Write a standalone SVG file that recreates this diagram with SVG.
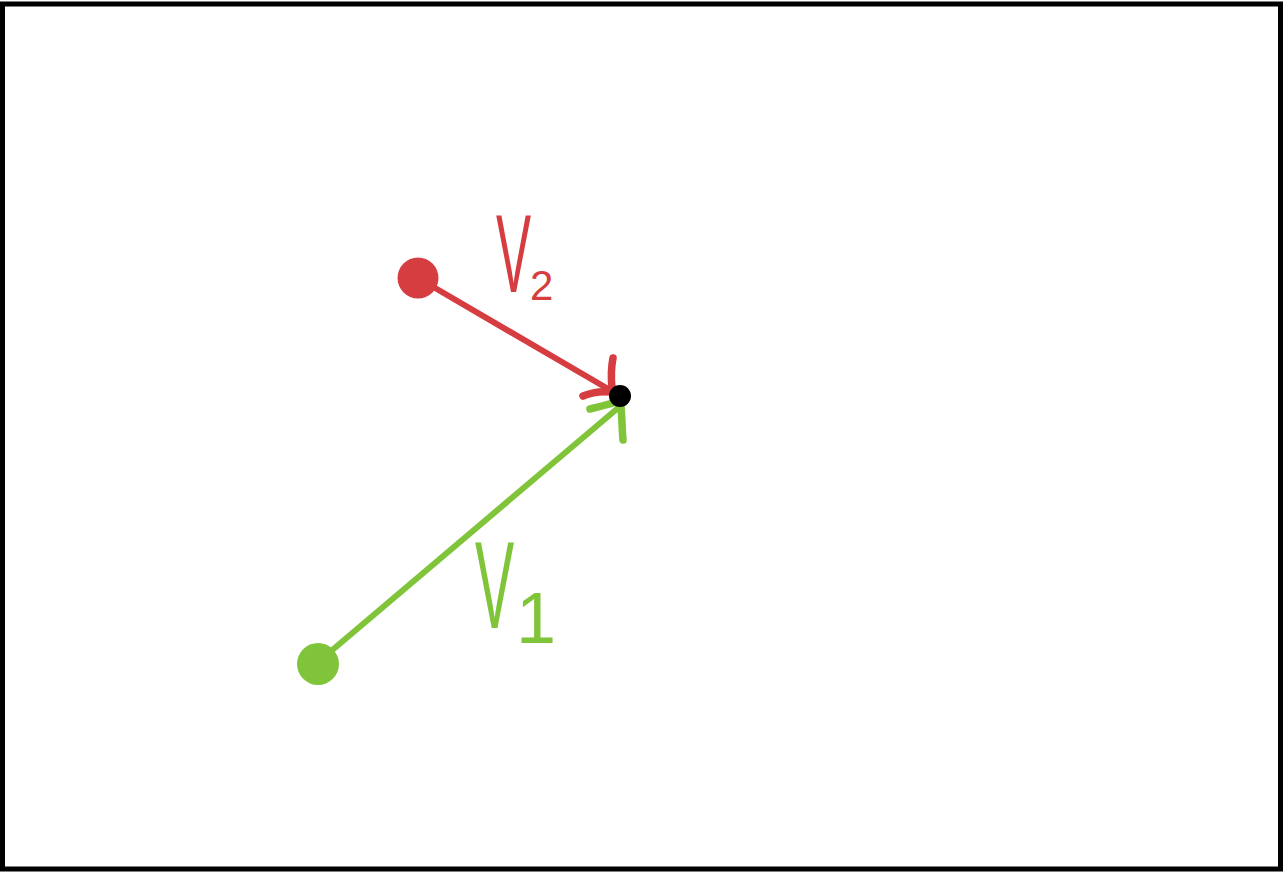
<svg xmlns="http://www.w3.org/2000/svg" width="1285" height="877" viewBox="0 0 1285 877">
<style>
.red{stroke:#d63d40;fill:none;stroke-width:6;stroke-linecap:round;stroke-linejoin:round}
.green{stroke:#80c43a;fill:none;stroke-width:6;stroke-linecap:round;stroke-linejoin:round}
.head{stroke-width:7.5}
.redf{fill:#d63d40}
.greenf{fill:#80c43a}
.lbl{font-family:"Liberation Sans",Arial,sans-serif}
</style>
<rect x="0" y="0" width="1285" height="877" fill="#ffffff"/>
<rect x="2.5" y="4" width="1278" height="865" fill="none" stroke="#000" stroke-width="5"/>
<g id="connectors">
<path class="red" d="M418,278 L610,390"/>
<path class="red head" d="M613,358 C611,368 611,378 612,388 M583,396 C592,392 602,391 612,392"/>
<path class="green" d="M317,663 L618,408"/>
<path class="green head" d="M590,409 C598,407 606,405 613,403 M621,407 C622,418 622,428 623,440"/>
</g>
<g id="label-v2">
<text class="lbl redf" transform="translate(496,292) scale(0.47,1)" font-size="112">V</text>
<text class="lbl redf" x="530" y="300" font-size="42">2</text>
</g>
<g id="label-v1">
<text class="lbl greenf" transform="translate(475,628) scale(0.47,1)" font-size="125">V</text>
<text class="lbl greenf" x="516" y="643" font-size="72">1</text>
</g>
<g id="node-v2-start"><circle class="redf" cx="418" cy="278" r="20.5"/></g>
<g id="node-v1-start"><circle class="greenf" cx="318" cy="664" r="21"/></g>
<g id="node-tip"><circle cx="620" cy="396" r="11" fill="#000"/></g>
</svg>
